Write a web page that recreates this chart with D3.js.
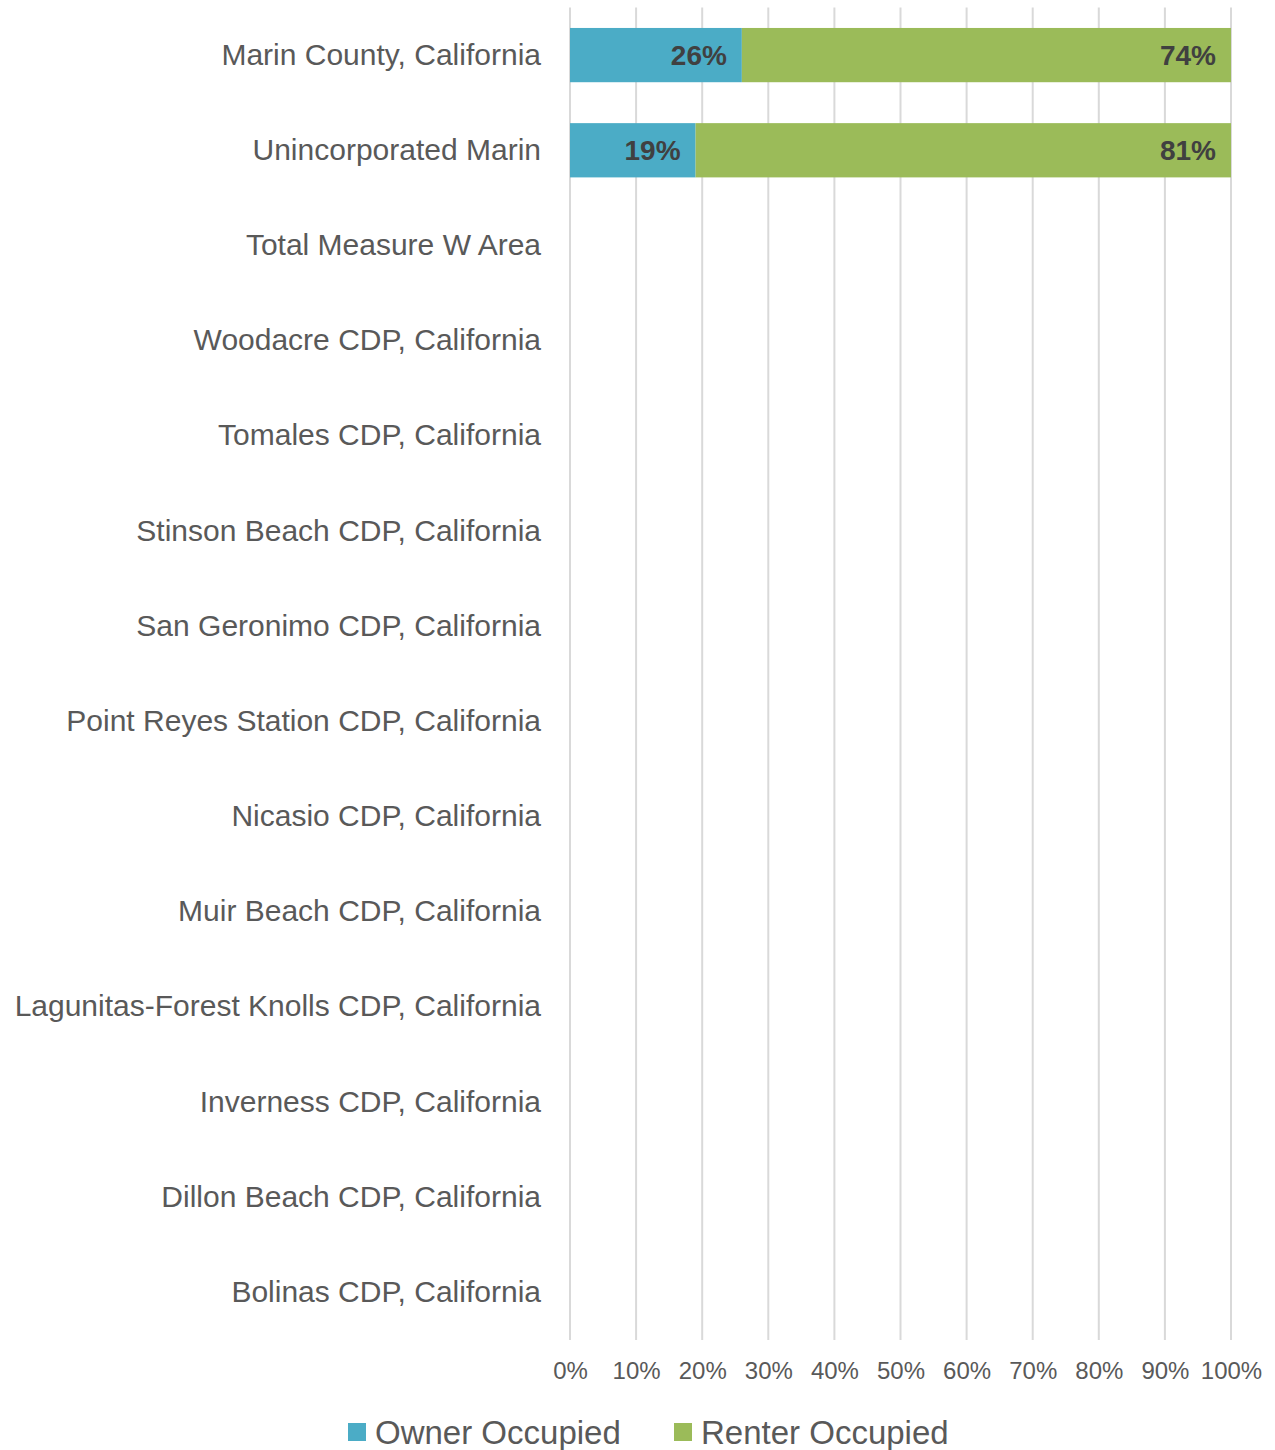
<!DOCTYPE html>
<html>
<head>
<meta charset="utf-8">
<script src="https://cdn.jsdelivr.net/npm/d3@7"></script>
<style>
  body { margin: 0; background: #fff; }
  svg { font-family: "Liberation Sans", Arial, sans-serif; }
</style>
</head>
<body>
<svg width="1275" height="1450"></svg>
<script>
// data
var places = [
  "Marin County, California",
  "Unincorporated Marin",
  "Total Measure W Area",
  "Woodacre CDP, California",
  "Tomales CDP, California",
  "Stinson Beach CDP, California",
  "San Geronimo CDP, California",
  "Point Reyes Station CDP, California",
  "Nicasio CDP, California",
  "Muir Beach CDP, California",
  "Lagunitas-Forest Knolls CDP, California",
  "Inverness CDP, California",
  "Dillon Beach CDP, California",
  "Bolinas CDP, California"
];
var owner  = [0.26, 0.19, null, null, null, null, null, null, null, null, null, null, null, null];
var renter = [0.74, 0.81, null, null, null, null, null, null, null, null, null, null, null, null];
var seriesNames = ["Owner Occupied", "Renter Occupied"];
var colors = ["#4bacc6", "#9bbb59"];
var ticks = [0, 0.1, 0.2, 0.3, 0.4, 0.5, 0.6, 0.7, 0.8, 0.9, 1];

var svg = d3.select("svg");
// plot box (note: "top" is a reserved window global, so use other names)
var plotL = 570, plotR = 1231, plotT = 7.5, plotB = 1340;

var x = d3.scaleLinear().domain([0, 1]).range([plotL, plotR]);
var y = d3.scaleBand().domain(places).range([plotT, plotB]).paddingInner(0.43).paddingOuter(0.215);

// gridlines
svg.append("g").selectAll("line")
  .data(ticks)
  .enter().append("line")
    .attr("x1", function(d) { return x(d); })
    .attr("x2", function(d) { return x(d); })
    .attr("y1", plotT)
    .attr("y2", plotB)
    .attr("stroke", "#d9d9d9")
    .attr("stroke-width", 2);

// x axis labels
var xAxis = d3.axisBottom(x).tickValues(ticks).tickSize(0).tickPadding(0)
  .tickFormat(d3.format(".0%"));
var gx = svg.append("g").attr("transform", "translate(0," + 1362 + ")").call(xAxis);
gx.select(".domain").remove();
gx.selectAll("text")
  .attr("font-size", 24)
  .attr("fill", "#595959")
  .attr("font-family", "Liberation Sans, Arial, sans-serif");

// y axis labels
var yAxis = d3.axisLeft(y).tickSize(0).tickPadding(0);
var gy = svg.append("g").attr("transform", "translate(" + (plotL - 29) + ",0)").call(yAxis);
gy.select(".domain").remove();
gy.selectAll("text")
  .attr("font-size", 30)
  .attr("fill", "#595959")
  .attr("font-family", "Liberation Sans, Arial, sans-serif");

// stacked bars
var rows = places.map(function(p, i) { return { place: p, owner: owner[i], renter: renter[i] }; })
  .filter(function(d) { return d.owner != null; });

var stack = d3.stack().keys(["owner", "renter"]);
var layers = stack(rows);

var g = svg.append("g").selectAll("g")
  .data(layers)
  .enter().append("g")
    .attr("fill", function(d, i) { return colors[i]; });

g.selectAll("rect")
  .data(function(d) { return d; })
  .enter().append("rect")
    .attr("x", function(d) { return x(d[0]); })
    .attr("width", function(d) { return x(d[1]) - x(d[0]); })
    .attr("y", function(d) { return y(d.data.place); })
    .attr("height", y.bandwidth());

g.selectAll("text")
  .data(function(d) { return d; })
  .enter().append("text")
    .attr("x", function(d) { return x(d[1]) - 15; })
    .attr("y", function(d) { return y(d.data.place) + y.bandwidth() / 2; })
    .attr("dy", "0.35em")
    .attr("text-anchor", "end")
    .attr("font-size", 28)
    .attr("font-weight", "bold")
    .attr("fill", "#404040")
    .text(function(d) { return Math.round((d[1] - d[0]) * 100) + "%"; });

// legend
var legendX = [348, 674];
var lg = svg.append("g").selectAll("g")
  .data(seriesNames)
  .enter().append("g")
    .attr("transform", function(d, i) { return "translate(" + legendX[i] + ",1432)"; });

lg.append("rect")
  .attr("x", 0).attr("y", -9)
  .attr("width", 18).attr("height", 18)
  .attr("fill", function(d, i) { return colors[i]; });

lg.append("text")
  .attr("x", 27)
  .attr("dy", "0.36em")
  .attr("font-size", 33)
  .attr("fill", "#595959")
  .text(function(d) { return d; });
</script>
</body>
</html>
